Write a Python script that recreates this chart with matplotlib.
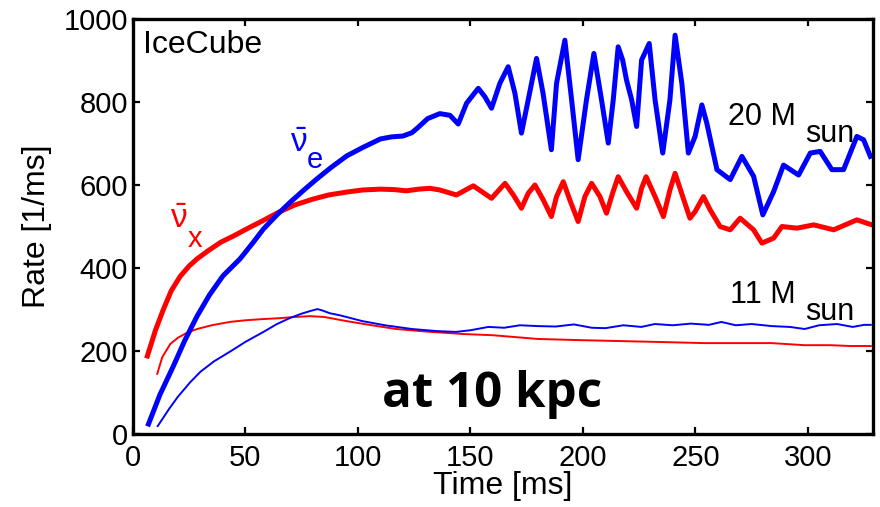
import matplotlib
matplotlib.use('Agg')
import matplotlib.pyplot as plt

plt.rcParams['font.family'] = ['Liberation Sans', 'DejaVu Sans']
plt.rcParams['mathtext.fontset'] = 'custom'
plt.rcParams['mathtext.rm'] = 'Liberation Sans'
plt.rcParams['mathtext.it'] = 'Liberation Sans'

# 20 Msun, anti-nu_x (thick red)
t20_x = [6.4, 10, 13.5, 17, 21, 25, 28.5, 33, 39, 45, 50.5, 57, 65, 72, 80, 87, 95, 102,
         110, 116, 121.5, 127, 132, 136.4, 143.8, 151.3, 159.4, 165.4, 169.1, 172.7,
         175.7, 178.7, 182.4, 186.0, 188.3, 191.3, 194.2, 197.9, 200.9, 203.9, 207.6,
         210.5, 213.2, 215.7, 219.4, 223.9, 226.1, 228.1, 232.1, 235.8, 238.7, 241.0,
         244.4, 247.6, 249.9, 253.6, 256.6, 261.0, 265.5, 269.9, 275.9, 279.6, 284.8,
         288.5, 295.2, 302.6, 311.5, 321.8, 328.5]
r20_x = [188, 250, 300, 345, 380, 405, 422, 440, 462, 478, 494, 512, 535, 552, 566, 576,
         583, 588, 590, 589, 586, 590, 592, 588, 576, 598, 568, 604, 576, 544, 580, 600,
         564, 524, 572, 608, 564, 512, 572, 604, 572, 532, 580, 620, 584, 544, 592, 620,
         572, 524, 588, 628, 572, 520, 536, 572, 540, 500, 492, 520, 492, 460, 472, 500,
         496, 504, 492, 516, 504]

# 20 Msun, anti-nu_e (thick blue)
t20_e = [6.9, 12, 18, 23, 28.5, 34, 40, 47.6, 53.5, 58, 64, 70, 76, 81.6, 88, 95, 102,
         110, 115, 120, 124, 127, 131, 136.4, 140.9, 144.6, 148.3, 153.5, 156.4, 159.4,
         163.1, 166.8, 169.8, 172.7, 175.7, 179.4, 182.3, 186.0, 188.3, 192.0, 195.0,
         197.9, 201.6, 204.9, 208.3, 211.3, 213.5, 215.7, 217.7, 219.4, 221.7, 223.9,
         226.1, 229.5, 232.1, 235.5, 238.7, 241.0, 244.0, 246.9, 249.9, 252.9, 255.1,
         259.6, 265.5, 270.7, 275.9, 280.0, 284.8, 289.2, 295.9, 301.1, 305.5, 310.7,
         315.9, 321.8, 324.8, 327.8]
r20_e = [24, 95, 164, 225, 284, 335, 381, 422, 462, 494, 528, 559, 588, 614, 642, 670,
         690, 711, 716, 718, 726, 740, 760, 772, 768, 747, 797, 833, 813, 785, 845, 885,
         821, 725, 805, 905, 821, 685, 845, 949, 805, 661, 805, 917, 805, 701, 805, 933,
         901, 853, 805, 741, 901, 941, 805, 677, 805, 961, 845, 677, 717, 793, 749, 637,
         613, 669, 621, 528, 584, 648, 624, 677, 681, 637, 637, 717, 709, 669]

# 11 Msun, anti-nu_x (thin red)
t11_x = [10.8, 13, 16.6, 20, 24, 28.5, 35, 43, 50, 58, 65, 72, 78.6, 85, 95, 105, 117,
         130, 146.5, 160, 180, 200, 232, 254, 270, 284, 298.6, 310, 319, 328]
r11_x = [145, 185, 217, 232, 244, 253, 262, 270, 274, 277, 279, 282, 284, 282, 272, 263,
         253, 247, 241, 238, 229, 226, 222, 219, 219, 219, 214, 214, 212, 212]

# 11 Msun, anti-nu_e (thin blue)
t11_e = [11, 16, 20, 25.5, 30, 36, 43, 50, 58, 64, 70, 75, 78.6, 82, 84, 87.5, 92, 102,
         112, 124, 135, 143.6, 150, 158, 165, 172, 180, 188, 196, 204, 210, 218, 226,
         232, 240, 248, 256, 261.6, 268, 275, 284, 292, 298.6, 305, 313, 320, 325, 328]
r11_e = [19, 60, 90, 125, 150, 175, 198, 222, 246, 265, 280, 290, 296, 301, 298, 291,
         286, 272, 262, 253, 248, 246, 250, 258, 256, 262, 260, 259, 264, 256, 255, 262,
         258, 265, 262, 266, 263, 270, 262, 265, 260, 258, 253, 262, 265, 258, 263, 263]

x_ticks = [0, 50, 100, 150, 200, 250, 300]
y_ticks = [0, 200, 400, 600, 800, 1000]

fig = plt.figure(figsize=(8.8, 5.07), dpi=100)
ax = fig.add_axes([0.1511, 0.144, 0.841, 0.8185])

ax.plot(t11_x, r11_x, color='red', lw=1.4)
ax.plot(t11_e, r11_e, color='blue', lw=1.4)
ax.plot(t20_x, r20_x, color='red', lw=3.6, solid_joinstyle='round')
ax.plot(t20_e, r20_e, color='blue', lw=3.6, solid_joinstyle='round')

ax.set_xlim(0, 329)
ax.set_ylim(0, 1000)
ax.set_xticks(x_ticks)
ax.set_yticks(y_ticks)
ax.tick_params(direction='in', top=True, right=True, length=5, width=1.6,
               labelsize=21)
ax.tick_params(axis='x', pad=7)
ax.tick_params(axis='y', pad=3.5)
for s in ax.spines.values():
    s.set_linewidth(2.4)

ax.set_xlabel('Time [ms]', fontsize=23)
ax.set_ylabel('Rate [1/ms]', fontsize=23)
ax.xaxis.set_label_coords(0.5, -0.088)
ax.yaxis.set_label_coords(-0.109, 0.5)

ax.text(4.4, 918, 'IceCube', fontsize=23, va='baseline')
ax.text(264.4, 745, '20 M', fontsize=22, va='baseline')
ax.text(298.7, 704, 'sun', fontsize=22, va='baseline')
ax.text(265.3, 316, '11 M', fontsize=22, va='baseline')
ax.text(298.7, 275, 'sun', fontsize=22, va='baseline')

ax.text(69.8, 680, r'$\bar{\nu}$', fontsize=24, color='blue', va='baseline')
ax.text(77.3, 641, 'e', fontsize=21, color='blue', va='baseline')
ax.text(16.4, 496, r'$\bar{\nu}$', fontsize=24, color='red', va='baseline')
ax.text(24.4, 451, 'x', fontsize=21, color='red', va='baseline')

ax.text(110.7, 65, 'at 10 kpc', fontsize=35.5, fontweight='bold',
        family='Open Sans', va='baseline')

fig.savefig('out.png', dpi=100)
